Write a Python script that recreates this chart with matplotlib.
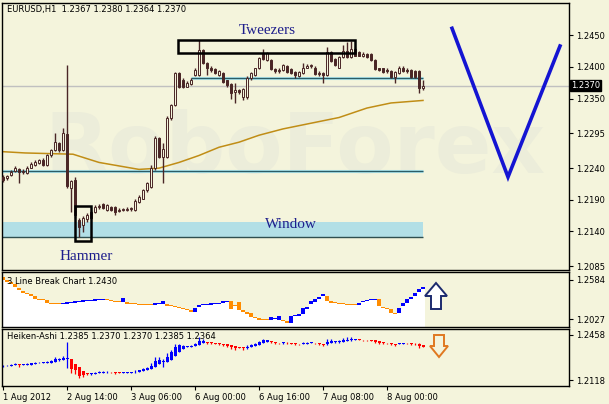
import matplotlib
matplotlib.use("Agg")
import matplotlib.pyplot as plt
import matplotlib.transforms as mtransforms
from matplotlib.patches import Rectangle, Polygon
import numpy as np

# EURUSD H1 candles (bar 0 = 1 Aug 22:00)
opens = [1.2226, 1.2224, 1.2229, 1.2235, 1.2238, 1.2234, 1.2232, 1.2241, 1.2245, 1.2248,
         1.2253, 1.2245, 1.2260, 1.2268, 1.2279, 1.2268, 1.2294, 1.2208, 1.2222, 1.2158,
         1.2150, 1.2159, 1.2170, 1.2170, 1.2178, 1.2183, 1.2174, 1.2178, 1.2178, 1.2172,
         1.2174, 1.2174, 1.2175, 1.2174, 1.2186, 1.2192, 1.2205, 1.2210, 1.2240, 1.2287,
         1.2257, 1.2257, 1.2320, 1.2339, 1.2390, 1.2379, 1.2369, 1.2373, 1.2387, 1.2387,
         1.2426, 1.2406, 1.2398, 1.2396, 1.2387, 1.2390, 1.2379, 1.2373, 1.2360, 1.2363,
         1.2352, 1.2352, 1.2382, 1.2387, 1.2398, 1.2422, 1.2411, 1.2411, 1.2396, 1.2393,
         1.2395, 1.2401, 1.2396, 1.2392, 1.2385, 1.2390, 1.2399, 1.2401, 1.2399, 1.2388,
         1.2390, 1.2387, 1.2423, 1.2412, 1.2399, 1.2415, 1.2425, 1.2415, 1.2429, 1.2423,
         1.2418, 1.2420, 1.2420, 1.2411, 1.2398, 1.2398, 1.2395, 1.2393, 1.2384, 1.2390,
         1.2399, 1.2395, 1.2395, 1.2393, 1.2393, 1.2367]
highs = [1.2229, 1.2229, 1.2237, 1.2243, 1.2240, 1.2238, 1.2243, 1.2249, 1.2253, 1.2254,
         1.2256, 1.2262, 1.2271, 1.2295, 1.2282, 1.2303, 1.2403, 1.2221, 1.2226, 1.2161,
         1.2164, 1.2169, 1.2174, 1.2181, 1.2183, 1.2185, 1.2183, 1.2180, 1.2180, 1.2177,
         1.2177, 1.2178, 1.2178, 1.2191, 1.2197, 1.2207, 1.2218, 1.2245, 1.2290, 1.2289,
         1.2279, 1.2322, 1.2341, 1.2392, 1.2392, 1.2382, 1.2377, 1.2382, 1.2398, 1.2442,
         1.2428, 1.2407, 1.2401, 1.2398, 1.2395, 1.2392, 1.2380, 1.2374, 1.2374, 1.2365,
         1.2366, 1.2385, 1.2392, 1.2399, 1.2415, 1.2429, 1.2423, 1.2412, 1.2399, 1.2398,
         1.2404, 1.2403, 1.2398, 1.2393, 1.2393, 1.2406, 1.2404, 1.2404, 1.2401, 1.2393,
         1.2392, 1.2431, 1.2425, 1.2414, 1.2417, 1.2434, 1.2439, 1.2441, 1.2431, 1.2425,
         1.2423, 1.2422, 1.2422, 1.2412, 1.2399, 1.2399, 1.2398, 1.2395, 1.2393, 1.2401,
         1.2401, 1.2398, 1.2396, 1.2395, 1.2395, 1.2380]
lows = [1.2218, 1.2221, 1.2227, 1.2234, 1.2216, 1.2230, 1.2230, 1.2240, 1.2243, 1.2246,
        1.2243, 1.2243, 1.2257, 1.2267, 1.2265, 1.2267, 1.2208, 1.2170, 1.2161, 1.2131,
        1.2139, 1.2155, 1.2159, 1.2169, 1.2175, 1.2175, 1.2172, 1.2172, 1.2166, 1.2170,
        1.2172, 1.2172, 1.2172, 1.2172, 1.2185, 1.2191, 1.2202, 1.2208, 1.2237, 1.2256,
        1.2216, 1.2256, 1.2316, 1.2338, 1.2366, 1.2366, 1.2368, 1.2371, 1.2385, 1.2385,
        1.2404, 1.2387, 1.2392, 1.2388, 1.2385, 1.2374, 1.2369, 1.2350, 1.2343, 1.2357,
        1.2347, 1.2349, 1.2380, 1.2385, 1.2396, 1.2411, 1.2409, 1.2395, 1.2390, 1.2390,
        1.2393, 1.2390, 1.2388, 1.2382, 1.2384, 1.2388, 1.2398, 1.2398, 1.2387, 1.2385,
        1.2374, 1.2385, 1.2407, 1.2401, 1.2398, 1.2414, 1.2414, 1.2414, 1.2417, 1.2417,
        1.2415, 1.2414, 1.2409, 1.2395, 1.2393, 1.2390, 1.2390, 1.2382, 1.2374, 1.2388,
        1.2392, 1.2390, 1.2382, 1.2382, 1.2358, 1.2364]
closes = [1.2221, 1.2227, 1.2234, 1.2240, 1.2234, 1.2235, 1.2241, 1.2246, 1.2249, 1.2253,
          1.2245, 1.2260, 1.2268, 1.2281, 1.2268, 1.2295, 1.2211, 1.2219, 1.2166, 1.2147,
          1.2161, 1.2166, 1.2161, 1.2178, 1.2180, 1.2177, 1.2181, 1.2174, 1.2170, 1.2174,
          1.2175, 1.2175, 1.2177, 1.2188, 1.2194, 1.2205, 1.2216, 1.2240, 1.2287, 1.2257,
          1.2271, 1.2319, 1.2339, 1.2390, 1.2368, 1.2369, 1.2374, 1.2380, 1.2395, 1.2426,
          1.2406, 1.2399, 1.2395, 1.2390, 1.2393, 1.2376, 1.2371, 1.2358, 1.2363, 1.2360,
          1.2365, 1.2382, 1.2390, 1.2398, 1.2414, 1.2412, 1.2422, 1.2396, 1.2393, 1.2395,
          1.2403, 1.2392, 1.2390, 1.2387, 1.2392, 1.2399, 1.2401, 1.2403, 1.2388, 1.2390,
          1.2387, 1.2423, 1.2409, 1.2403, 1.2415, 1.2425, 1.2415, 1.2429, 1.2418, 1.2418,
          1.2420, 1.2415, 1.2411, 1.2396, 1.2395, 1.2392, 1.2393, 1.2384, 1.2392, 1.2399,
          1.2393, 1.2393, 1.2384, 1.2384, 1.2366, 1.2370]

# moving average, read at a few bars
ma_bar = [0, 5.5, 17.5, 24, 34, 39, 44, 49, 54, 59, 64, 70, 77, 84, 91, 97, 105]
ma_val = [1.2266, 1.2264, 1.2262, 1.2249, 1.2238, 1.2240, 1.2249, 1.2260, 1.2273, 1.2281,
          1.2292, 1.2302, 1.2311, 1.2320, 1.2335, 1.2343, 1.2347]

# 3 line break bricks (top, bottom, 1 = up / 0 = down)
lb_top = [1.2627, 1.2584, 1.2555, 1.2527, 1.2470, 1.2427, 1.2398, 1.2384, 1.2356, 1.2313,
          1.2313, 1.2298, 1.2256, 1.2256, 1.2256, 1.2256, 1.2270, 1.2270, 1.2284, 1.2284,
          1.2298, 1.2298, 1.2298, 1.2313, 1.2313, 1.2313, 1.2313, 1.2298, 1.2284, 1.2284,
          1.2327, 1.2270, 1.2256, 1.2256, 1.2241, 1.2241, 1.2241, 1.2241, 1.2256, 1.2256,
          1.2284, 1.2241, 1.2227, 1.2213, 1.2199, 1.2184, 1.2170, 1.2156, 1.2184, 1.2227,
          1.2241, 1.2241, 1.2256, 1.2256, 1.2256, 1.2284, 1.2284, 1.2284, 1.2227, 1.2270,
          1.2156, 1.2127, 1.2113, 1.2056, 1.2041, 1.2027, 1.2027, 1.2056, 1.2041, 1.2070,
          1.2013, 1.1998, 1.2070, 1.2084, 1.2098, 1.2184, 1.2199, 1.2284, 1.2313, 1.2341,
          1.2384, 1.2356, 1.2284, 1.2270, 1.2256, 1.2256, 1.2241, 1.2241, 1.2241, 1.2256,
          1.2284, 1.2298, 1.2313, 1.2313, 1.2313, 1.2199, 1.2184, 1.2170, 1.2113, 1.2184,
          1.2256, 1.2313, 1.2341, 1.2398, 1.2455, 1.2484]
lb_bot = [1.2584, 1.2555, 1.2527, 1.2484, 1.2441, 1.2398, 1.2384, 1.2356, 1.2313, 1.2298,
          1.2298, 1.2256, 1.2241, 1.2241, 1.2241, 1.2241, 1.2241, 1.2256, 1.2256, 1.2270,
          1.2270, 1.2284, 1.2284, 1.2284, 1.2298, 1.2298, 1.2298, 1.2284, 1.2270, 1.2270,
          1.2270, 1.2241, 1.2241, 1.2241, 1.2227, 1.2227, 1.2227, 1.2227, 1.2227, 1.2241,
          1.2241, 1.2213, 1.2213, 1.2199, 1.2184, 1.2170, 1.2156, 1.2127, 1.2127, 1.2199,
          1.2227, 1.2227, 1.2227, 1.2241, 1.2241, 1.2256, 1.2270, 1.2170, 1.2213, 1.2156,
          1.2127, 1.2098, 1.2056, 1.2041, 1.2013, 1.2013, 1.2013, 1.2013, 1.2027, 1.2013,
          1.1998, 1.1970, 1.1970, 1.2070, 1.2070, 1.2098, 1.2170, 1.2241, 1.2270, 1.2313,
          1.2356, 1.2284, 1.2256, 1.2256, 1.2241, 1.2241, 1.2227, 1.2227, 1.2227, 1.2227,
          1.2270, 1.2284, 1.2298, 1.2298, 1.2213, 1.2184, 1.2170, 1.2113, 1.2098, 1.2113,
          1.2213, 1.2256, 1.2313, 1.2356, 1.2413, 1.2455]
lb_up = [0] * 15 + [1] * 11 + [0] * 4 + [1] + [0] * 7 + [1] * 3 + [0] * 7 + [1] * 9 + \
        [0] * 10 + [1] * 3 + [0] * 2 + [1] * 9 + [0] * 8 + [1] * 5 + [0] * 5 + [1] * 7

# levels drawn by hand on the chart
last_price = 1.2370
resist = 1.2382
support = 1.2235
window_lo, window_hi = 1.2131, 1.2155
tweezers_box = (43.75, 88.0, 1.2422, 1.2442)
hammer_box = (17.9, 22.0, 1.2125, 1.2180)
v_bar = [112.25, 126.25, 139.25]
v_val = [1.2461, 1.2226, 1.2433]

time_ticks = [0, 16, 32, 48, 64, 80, 96]
time_labels = ["1 Aug 2012", "2 Aug 14:00", "3 Aug 06:00", "6 Aug 00:00",
               "6 Aug 16:00", "7 Aug 08:00", "8 Aug 00:00"]

bg = "#f4f4dc"
dark = "#4a2626"
W, H = 609, 404

o = np.array(opens); h = np.array(highs); l = np.array(lows); c = np.array(closes)
n = len(o)
x = np.arange(n)

fig = plt.figure(figsize=(W / 100, H / 100), dpi=100, facecolor=bg)
plt.rcParams["font.family"] = "DejaVu Sans"


def add_ax(top, bottom):
    ax = fig.add_axes([2 / W, 1 - bottom / H, 567 / W, (bottom - top) / H])
    ax.set_facecolor(bg)
    ax.set_xlim(-0.25, 141.5)
    ax.yaxis.tick_right()
    ax.tick_params(axis="y", direction="out", length=3, width=0.8, labelsize=6, pad=2)
    ax.set_xticks([])
    for s in ax.spines.values():
        s.set_color("black")
        s.set_linewidth(1)
    return ax


ax = add_ax(3, 270)
ax_lb = add_ax(272, 327)
ax_ha = add_ax(329, 386)

# ---------- main chart ----------
ax.set_ylim(1.2079, 1.2501)
yt = [1.2450, 1.2400, 1.2350, 1.2295, 1.2240, 1.2190, 1.2140, 1.2085]
ax.set_yticks(yt)
ax.set_yticklabels(["%.4f" % v for v in yt])

# faint watermark
ax.text(0.517, 0.45, "RoboForex", transform=ax.transAxes, ha="center", va="center",
        fontsize=60, fontweight="bold", color="#ecedda", zorder=0, clip_on=True)

ax.axhline(last_price, color="#c0c0c0", lw=1, zorder=1)
ax.add_patch(Rectangle((-0.25, window_lo), 105.25, window_hi - window_lo,
                       facecolor="#b2dfe6", edgecolor="none", zorder=1))
ax.hlines(window_lo, -0.25, 105, color="#2f4f4f", lw=1, zorder=2)
ax.hlines(support, -0.25, 105, color="#a8e0e8", lw=2.2, zorder=2)
ax.hlines(support, -0.25, 105, color="#2b5c66", lw=0.9, zorder=2)
ax.hlines(resist, 47, 105, color="#a8e0e8", lw=2.2, zorder=2)
ax.hlines(resist, 47, 105, color="#2b5c66", lw=0.9, zorder=2)

ax.plot(ma_bar, ma_val, color="#c08d16", lw=1.1, zorder=2)

up = c >= o
ax.vlines(x, l, h, color=dark, lw=1, zorder=3)
body_lo = np.minimum(o, c)
body_h = np.maximum(np.abs(c - o), 0.00012)
ax.bar(x, body_h, bottom=body_lo, width=0.5, color=np.where(up, bg, dark),
       edgecolor=dark, linewidth=0.7, zorder=4)

x0, x1, y0, y1 = tweezers_box
ax.add_patch(Rectangle((x0, y0), x1 - x0, y1 - y0, fill=False, edgecolor="black",
                       lw=1.8, zorder=5))
x0, x1, y0, y1 = hammer_box
ax.add_patch(Rectangle((x0, y0), x1 - x0, y1 - y0, fill=False, edgecolor="black",
                       lw=1.8, zorder=5))

ax.plot(v_bar, v_val, color="#1414d2", lw=2.6, solid_joinstyle="miter", zorder=5)

lab = dict(family="Liberation Serif", fontsize=11, color="#1e1e8c", ha="center",
           va="center", zorder=6)
ax.text(66, 1.2458, "Tweezers", **lab)
ax.text(20.8, 1.2100, "Hammer", **lab)
ax.text(72, 1.2151, "Window", **lab)

ax.text(0.009, 0.974, "EURUSD,H1  1.2367 1.2380 1.2364 1.2370", transform=ax.transAxes,
        fontsize=6, va="center", ha="left", color="black")

trans = mtransforms.blended_transform_factory(ax.transAxes, ax.transData)
ax.text(1.004, last_price, "1.2370", transform=trans, ha="left", va="center", fontsize=6,
        color="white", zorder=10, clip_on=False,
        bbox=dict(boxstyle="square,pad=0.12", facecolor="black", edgecolor="black"))

# ---------- 3 line break ----------
lbt = np.array(lb_top); lbb = np.array(lb_bot)
ax_lb.set_ylim(1.1913, 1.2698)
ax_lb.set_yticks([1.2584, 1.2027])
ax_lb.set_yticklabels(["1.2584", "1.2027"])
xe = np.arange(n + 1) - 0.5
ax_lb.fill_between(xe, np.append(lbt, lbt[-1]), 1.18, step="post", color="white",
                   lw=0, zorder=1)
lb_col = np.where(np.array(lb_up) == 1, "#0000ff", "#ff8c00")
ax_lb.bar(x, np.maximum(lbt - lbb, 0.0012), bottom=lbb, width=1.0, color=lb_col,
          lw=0, zorder=2)
ax_lb.text(0.009, 0.82, "3 Line Break Chart 1.2430", transform=ax_lb.transAxes,
           fontsize=6, va="center", ha="left", color="black", zorder=5)

# ---------- heiken ashi ----------
ha_c = (o + h + l + c) / 4
ha_o = np.zeros(n)
ha_o[0] = (o[0] + c[0]) / 2
for i in range(1, n):
    ha_o[i] = (ha_o[i - 1] + ha_c[i - 1]) / 2
ha_h = np.maximum.reduce([h, ha_o, ha_c])
ha_l = np.minimum.reduce([l, ha_o, ha_c])
ha_col = np.where(ha_c >= ha_o, "#0000ff", "#ff0000")

ax_ha.set_ylim(1.2073, 1.2503)
ax_ha.set_yticks([1.2458, 1.2118])
ax_ha.set_yticklabels(["1.2458", "1.2118"])
ax_ha.vlines(x, ha_l, ha_h, colors=ha_col, lw=0.9, zorder=2)
ax_ha.bar(x, np.maximum(np.abs(ha_c - ha_o), 0.0004), bottom=np.minimum(ha_o, ha_c),
          width=0.75, color=ha_col, lw=0, zorder=3)
ax_ha.text(0.009, 0.86, "Heiken-Ashi 1.2385 1.2370 1.2370 1.2385 1.2364",
           transform=ax_ha.transAxes, fontsize=6, va="center", ha="left", color="black",
           zorder=5)

ax_ha.set_xticks(time_ticks)
ax_ha.set_xticklabels(time_labels, ha="left")
ax_ha.tick_params(axis="x", direction="out", length=3, width=0.8, labelsize=6, pad=2)

# ---------- arrows ----------
def fig_poly(pts, fc, ec):
    p = Polygon([(px / W, 1 - py / H) for px, py in pts], closed=True,
                transform=fig.transFigure, facecolor=fc, edgecolor=ec, lw=1.4,
                joinstyle="miter")
    fig.patches.append(p)


fig_poly([(436, 283), (447, 296), (441, 296), (441, 309), (431, 309), (431, 296),
          (425, 296)], "white", "#1c2a6e")
fig_poly([(434, 335), (444, 335), (444, 346), (448, 346), (439, 357), (430, 346),
          (434, 346)], bg, "#e07820")

fig.savefig("out.png", dpi=100, facecolor=bg)
